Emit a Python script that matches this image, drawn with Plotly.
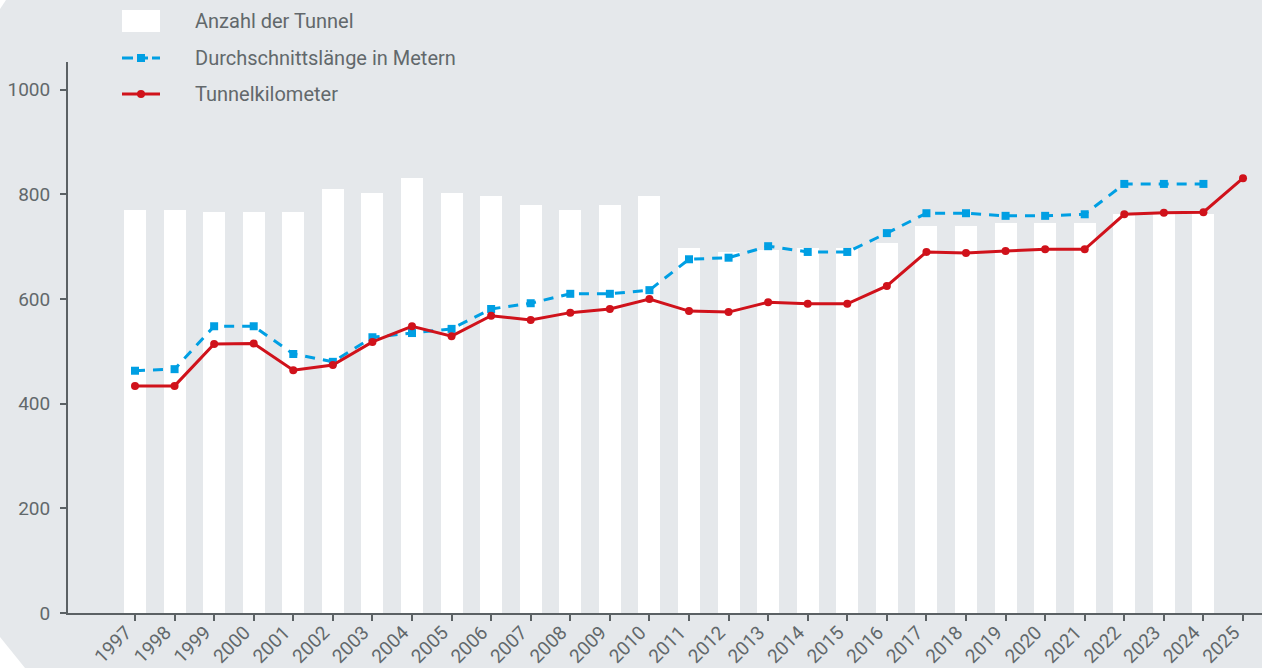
import plotly.graph_objects as go

# ---------------- data ----------------
years = list(range(1997, 2026))
anzahl_tunnel = [770, 770, 766, 766, 766, 810, 803, 831, 803, 797, 780, 770, 780, 797,
                 697, 690, 694, 697, 697, 707, 740, 740, 745, 745, 745, 762, 762, 762, None]
durchschnittslaenge = [463, 466, 548, 548, 495, 480, 527, 535, 543, 581, 592, 610, 610, 617,
                       676, 679, 701, 690, 690, 726, 764, 764, 759, 759, 762, 820, 820, 820, None]
tunnelkilometer = [434, 434, 514, 515, 464, 474, 518, 548, 529, 568, 560, 574, 581, 600,
                   577, 575, 594, 591, 591, 625, 690, 688, 692, 695, 695, 762, 765, 766, 831]
y_ticks = [0, 200, 400, 600, 800, 1000]
legend_labels = ["Anzahl der Tunnel", "Durchschnittslänge in Metern", "Tunnelkilometer"]

# ---------------- style ----------------
W, H = 1262, 668
ML, MR, MT, MB = 68, 0, 62, 55
PW, PH = W - ML - MR, H - MT - MB
BG = "#e5e8eb"
AXIS = "#5b6164"
TEXT = "#62686b"
BLUE = "#009fe3"
RED = "#d0121b"
FONT = "Roboto"


def px_x(x):
    return (x - ML) / PW


def px_y(y):
    return (H - MB - y) / PH


fig = go.Figure()
fig.add_trace(go.Bar(x=years, y=anzahl_tunnel, width=0.556, marker=dict(color="white", line=dict(width=0)),
                     name=legend_labels[0]))
fig.add_trace(go.Scatter(x=years, y=durchschnittslaenge, mode="lines+markers", name=legend_labels[1],
                         line=dict(color=BLUE, width=3, dash="10px,8px"),
                         marker=dict(symbol="square", size=8, color=BLUE)))
fig.add_trace(go.Scatter(x=years, y=tunnelkilometer, mode="lines+markers", name=legend_labels[2],
                         line=dict(color=RED, width=3),
                         marker=dict(symbol="circle", size=8, color=RED)))

shapes = []
# white corner cuts of the grey panel
shapes.append(dict(type="path", xref="paper", yref="paper", layer="below",
                   path=f"M {px_x(0)} {px_y(637)} L {px_x(0)} {px_y(668)} L {px_x(25)} {px_y(668)} Z",
                   fillcolor="white", line=dict(width=0)))
shapes.append(dict(type="path", xref="paper", yref="paper", layer="below",
                   path=f"M {px_x(0)} {px_y(0)} L {px_x(6)} {px_y(0)} L {px_x(0)} {px_y(9)} Z",
                   fillcolor="white", line=dict(width=0)))
# manual legend
shapes.append(dict(type="rect", xref="paper", yref="paper", x0=px_x(122), x1=px_x(160),
                   y0=px_y(32), y1=px_y(10), fillcolor="white", line=dict(width=0)))
shapes.append(dict(type="line", xref="paper", yref="paper", x0=px_x(122), x1=px_x(160),
                   y0=px_y(58), y1=px_y(58), line=dict(color=BLUE, width=3, dash="11px,4px")))
shapes.append(dict(type="rect", xref="paper", yref="paper", x0=px_x(137), x1=px_x(145),
                   y0=px_y(62), y1=px_y(54), fillcolor=BLUE, line=dict(width=0)))
shapes.append(dict(type="line", xref="paper", yref="paper", x0=px_x(122), x1=px_x(160),
                   y0=px_y(94), y1=px_y(94), line=dict(color=RED, width=3)))
shapes.append(dict(type="circle", xref="paper", yref="paper", x0=px_x(137), x1=px_x(145),
                   y0=px_y(98), y1=px_y(90), fillcolor=RED, line=dict(width=0)))

annotations = []
for lab, yc in zip(legend_labels, [21, 58, 94]):
    annotations.append(dict(text=lab, xref="paper", yref="paper", x=px_x(193), y=px_y(yc),
                            xanchor="left", yanchor="middle", showarrow=False,
                            font=dict(family=FONT, size=20, color=TEXT)))

fig.update_layout(
    width=W, height=H,
    margin=dict(l=ML, r=MR, t=MT, b=MB, pad=0, autoexpand=False),
    paper_bgcolor=BG, plot_bgcolor=BG,
    showlegend=False,
    shapes=shapes, annotations=annotations,
    font=dict(family=FONT, size=19, color=TEXT),
    bargap=0,
)
fig.update_xaxes(range=[1995.307, 2025.48], tickvals=years, ticktext=[str(y) for y in years],
                 tickangle=-45, showline=True, linecolor=AXIS, linewidth=2, automargin=False,
                 ticks="outside", ticklen=6, tickwidth=2, tickcolor=AXIS,
                 ticklabelshift=-9, ticklabelstandoff=-7,
                 showgrid=False, zeroline=False, tickfont=dict(family=FONT, size=19, color=TEXT))
fig.update_yaxes(range=[0, 1053], tickvals=y_ticks, showline=True, linecolor=AXIS, linewidth=2,
                 ticks="outside", ticklen=6, tickwidth=2, tickcolor=AXIS, ticklabelstandoff=6,
                 automargin=False,
                 showgrid=False, zeroline=False, tickfont=dict(family=FONT, size=19, color=TEXT))

fig.write_html("out.html", config={"displayModeBar": False},
               post_script="document.body.style.margin='0';document.body.style.overflow='hidden';")
